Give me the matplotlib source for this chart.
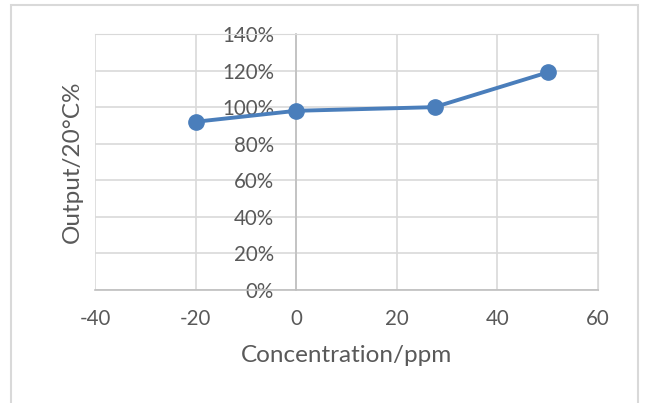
import matplotlib.pyplot as plt
from matplotlib.ticker import PercentFormatter
from matplotlib.patches import Rectangle

# data
concentration = [-20, 0, 27.5, 50]
output = [0.92, 0.98, 1.00, 1.19]

x_ticks = [-40, -20, 0, 20, 40, 60]
y_ticks = [0, 0.2, 0.4, 0.6, 0.8, 1.0, 1.2, 1.4]

plt.rcParams['font.family'] = ['Lato', 'DejaVu Sans']
plt.rcParams['axes.unicode_minus'] = False

text_grey = "#595959"
grid_grey = "#d9d9d9"
line_blue = "#4a7ebb"

fig = plt.figure(figsize=(6.45, 4.03), dpi=100)
# outer chart frame
fig.patches.append(Rectangle((11 / 645, -0.05), 627 / 645, 1.05 - 5 / 403,
                             transform=fig.transFigure, fill=False,
                             edgecolor=grid_grey, linewidth=1.5))

ax = fig.add_axes([95 / 645, 113 / 403, 503 / 645, 256 / 403])

ax.plot(concentration, output, color=line_blue, linewidth=2.8,
        marker="o", markersize=11, zorder=3)

ax.set_xlim(-40, 60)
ax.set_ylim(0, 1.4)
ax.set_xticks(x_ticks)
ax.set_yticks(y_ticks)
ax.yaxis.set_major_formatter(PercentFormatter(1.0, decimals=0))

ax.grid(True, color=grid_grey, linewidth=1.2)
ax.set_axisbelow(True)

ax.spines['left'].set_position(('data', 0))
ax.spines['left'].set_color("#bfbfbf")
ax.spines['left'].set_linewidth(1.2)
ax.spines['bottom'].set_color("#bfbfbf")
ax.spines['bottom'].set_linewidth(1.2)
ax.spines['top'].set_color(grid_grey)
ax.spines['right'].set_color(grid_grey)

ax.tick_params(axis='both', length=0, labelsize=14.8, labelcolor=text_grey)
ax.tick_params(axis='x', pad=14)
ax.tick_params(axis='y', pad=16)

ax.set_xlabel("Concentration/ppm", fontsize=17.5, color=text_grey)
ax.set_ylabel("Output/20°C%", fontsize=17.5, color=text_grey)
ax.xaxis.set_label_coords(0.5, -0.215)
ax.yaxis.set_label_coords(-0.024, 0.5)

fig.savefig("out.png", dpi=100)
